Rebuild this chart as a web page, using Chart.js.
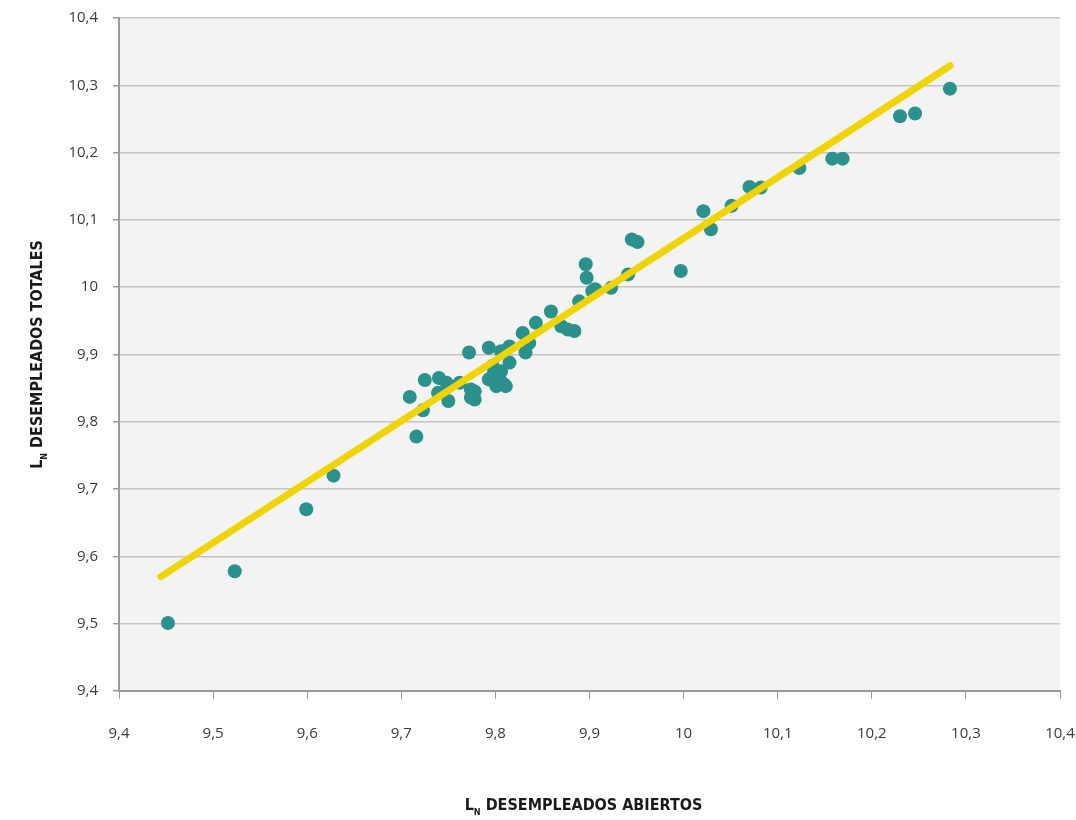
<!DOCTYPE html>
<html>
<head>
<meta charset="utf-8">
<script src="https://cdn.jsdelivr.net/npm/chart.js@4/dist/chart.umd.min.js"></script>
<style>
  html, body { margin: 0; padding: 0; background: #ffffff; }
  #wrap { width: 1076px; height: 820px; position: relative; }
</style>
</head>
<body>
<div id="wrap"><canvas id="scatterChart"></canvas></div>
<script>
// ln desempleados abiertos (x) vs ln desempleados totales (y)
const abiertos = [
    9.452, 9.523, 9.599, 9.628, 9.709, 9.725, 9.716, 9.723, 9.740, 9.748,
    9.739, 9.750, 9.762, 9.772, 9.774, 9.778, 9.774, 9.778, 9.793, 9.797,
    9.801, 9.811, 9.806, 9.815, 9.815, 9.806, 9.829, 9.843, 9.859, 9.836,
    9.832, 9.877, 9.884, 9.870, 9.889, 9.903, 9.797, 9.804, 9.793, 9.809,
    9.896, 9.897, 9.945, 9.951, 9.997, 9.941, 9.923, 9.906, 10.021, 10.029,
    10.051, 10.070, 10.082, 10.123, 10.158, 10.169, 10.230, 10.246, 10.283
];
const totales = [
    9.501, 9.578, 9.670, 9.720, 9.837, 9.862, 9.778, 9.817, 9.865, 9.858,
    9.843, 9.831, 9.858, 9.903, 9.848, 9.845, 9.836, 9.833, 9.910, 9.868,
    9.853, 9.853, 9.875, 9.888, 9.912, 9.905, 9.932, 9.947, 9.964, 9.917,
    9.903, 9.937, 9.935, 9.942, 9.979, 9.994, 9.883, 9.868, 9.863, 9.856,
    10.034, 10.014, 10.071, 10.067, 10.024, 10.019, 9.999, 9.997, 10.113, 10.086,
    10.121, 10.149, 10.148, 10.177, 10.191, 10.191, 10.254, 10.258, 10.295
];

// recta de ajuste (extremos)
const fitX = [9.4445, 10.2833];
const fitY = [9.570, 10.329];

const tickValues = [9.4, 9.5, 9.6, 9.7, 9.8, 9.9, 10, 10.1, 10.2, 10.3, 10.4];

const xTitle = ["L", "N", " DESEMPLEADOS ABIERTOS"];
const yTitle = ["L", "N", " DESEMPLEADOS TOTALES"];

function fmt(v) {
    return String(Number(v.toFixed(1))).replace(".", ",");
}

const points = abiertos.map((x, i) => ({ x, y: totales[i] }));
const fitLine = fitX.map((x, i) => ({ x, y: fitY[i] }));

const plotBackground = {
    id: "plotBackground",
    beforeDraw(chart) {
        const { ctx, chartArea: a } = chart;
        ctx.save();
        ctx.fillStyle = "#f3f3f3";
        ctx.fillRect(a.left, a.top, a.right - a.left, a.bottom - a.top);
        ctx.restore();
    }
};

function drawSubTitle(ctx, parts, cx, cy) {
    const big = "bold 16px 'Liberation Sans Narrow', 'DejaVu Sans Condensed', sans-serif";
    const small = "bold 9px 'Liberation Sans Narrow', 'DejaVu Sans Condensed', sans-serif";
    ctx.font = big;
    const w0 = ctx.measureText(parts[0]).width;
    const w2 = ctx.measureText(parts[2]).width;
    ctx.font = small;
    const w1 = ctx.measureText(parts[1]).width;
    const total = w0 + w1 + w2;
    let x = cx - total / 2;
    ctx.textBaseline = "middle";
    ctx.textAlign = "left";
    ctx.fillStyle = "#1a1a1a";
    ctx.font = big;
    ctx.fillText(parts[0], x, cy);
    x += w0;
    ctx.font = small;
    ctx.fillText(parts[1], x, cy + 7);
    x += w1;
    ctx.font = big;
    ctx.fillText(parts[2], x, cy);
}

const axisTitles = {
    id: "axisTitles",
    afterDraw(chart) {
        const { ctx, chartArea: a } = chart;
        ctx.save();
        drawSubTitle(ctx, xTitle, (a.left + a.right) / 2 - 6, 806);
        ctx.translate(38, (a.top + a.bottom) / 2);
        ctx.rotate(-Math.PI / 2);
        drawSubTitle(ctx, yTitle, 0, 0);
        ctx.restore();
    }
};

const ctx = document.getElementById("scatterChart").getContext("2d");
new Chart(ctx, {
    type: "scatter",
    data: {
        datasets: [
            {
                type: "line",
                label: "Ajuste",
                data: fitLine,
                borderColor: "#f0d400",
                borderWidth: 7,
                borderCapStyle: "round",
                pointRadius: 0,
                fill: false,
                order: 0
            },
            {
                label: "Observaciones",
                data: points,
                backgroundColor: "#2a918c",
                borderColor: "#2a918c",
                borderWidth: 0,
                pointRadius: 7,
                order: 1
            }
        ]
    },
    options: {
        responsive: true,
        maintainAspectRatio: false,
        animation: false,
        layout: { padding: { left: 0, top: 18, right: 16, bottom: 0 } },
        plugins: {
            legend: { display: false },
            tooltip: { enabled: false }
        },
        scales: {
            x: {
                type: "linear",
                min: 9.4,
                max: 10.4,
                afterBuildTicks: s => { s.ticks = tickValues.map(v => ({ value: v })); },
                afterFit: s => {
                    s.height = 129;
                    s.paddingLeft = 0;
                    s.paddingRight = 0;
                },
                grid: {
                    drawOnChartArea: false,
                    drawTicks: true,
                    tickLength: 8,
                    color: "#9a9a9a",
                    lineWidth: 1
                },
                border: { color: "#9a9a9a", width: 2 },
                ticks: {
                    padding: 26,
                    color: "#3a3a3a",
                    font: { family: "'Open Sans', sans-serif", size: 15 },
                    maxRotation: 0,
                    callback: v => fmt(v)
                }
            },
            y: {
                type: "linear",
                min: 9.4,
                max: 10.4,
                afterBuildTicks: s => { s.ticks = tickValues.map(v => ({ value: v })); },
                afterFit: s => {
                    s.width = 119;
                    s.paddingTop = 0;
                    s.paddingBottom = 0;
                },
                grid: {
                    color: "#c4c4c4",
                    lineWidth: 1.5,
                    drawTicks: true,
                    tickLength: 6,
                    tickColor: "#9a9a9a"
                },
                border: { color: "#9a9a9a", width: 2 },
                ticks: {
                    padding: 15,
                    color: "#3a3a3a",
                    font: { family: "'Open Sans', sans-serif", size: 15 },
                    callback: v => fmt(v)
                }
            }
        }
    },
    plugins: [plotBackground, axisTitles]
});
</script>
</body>
</html>
